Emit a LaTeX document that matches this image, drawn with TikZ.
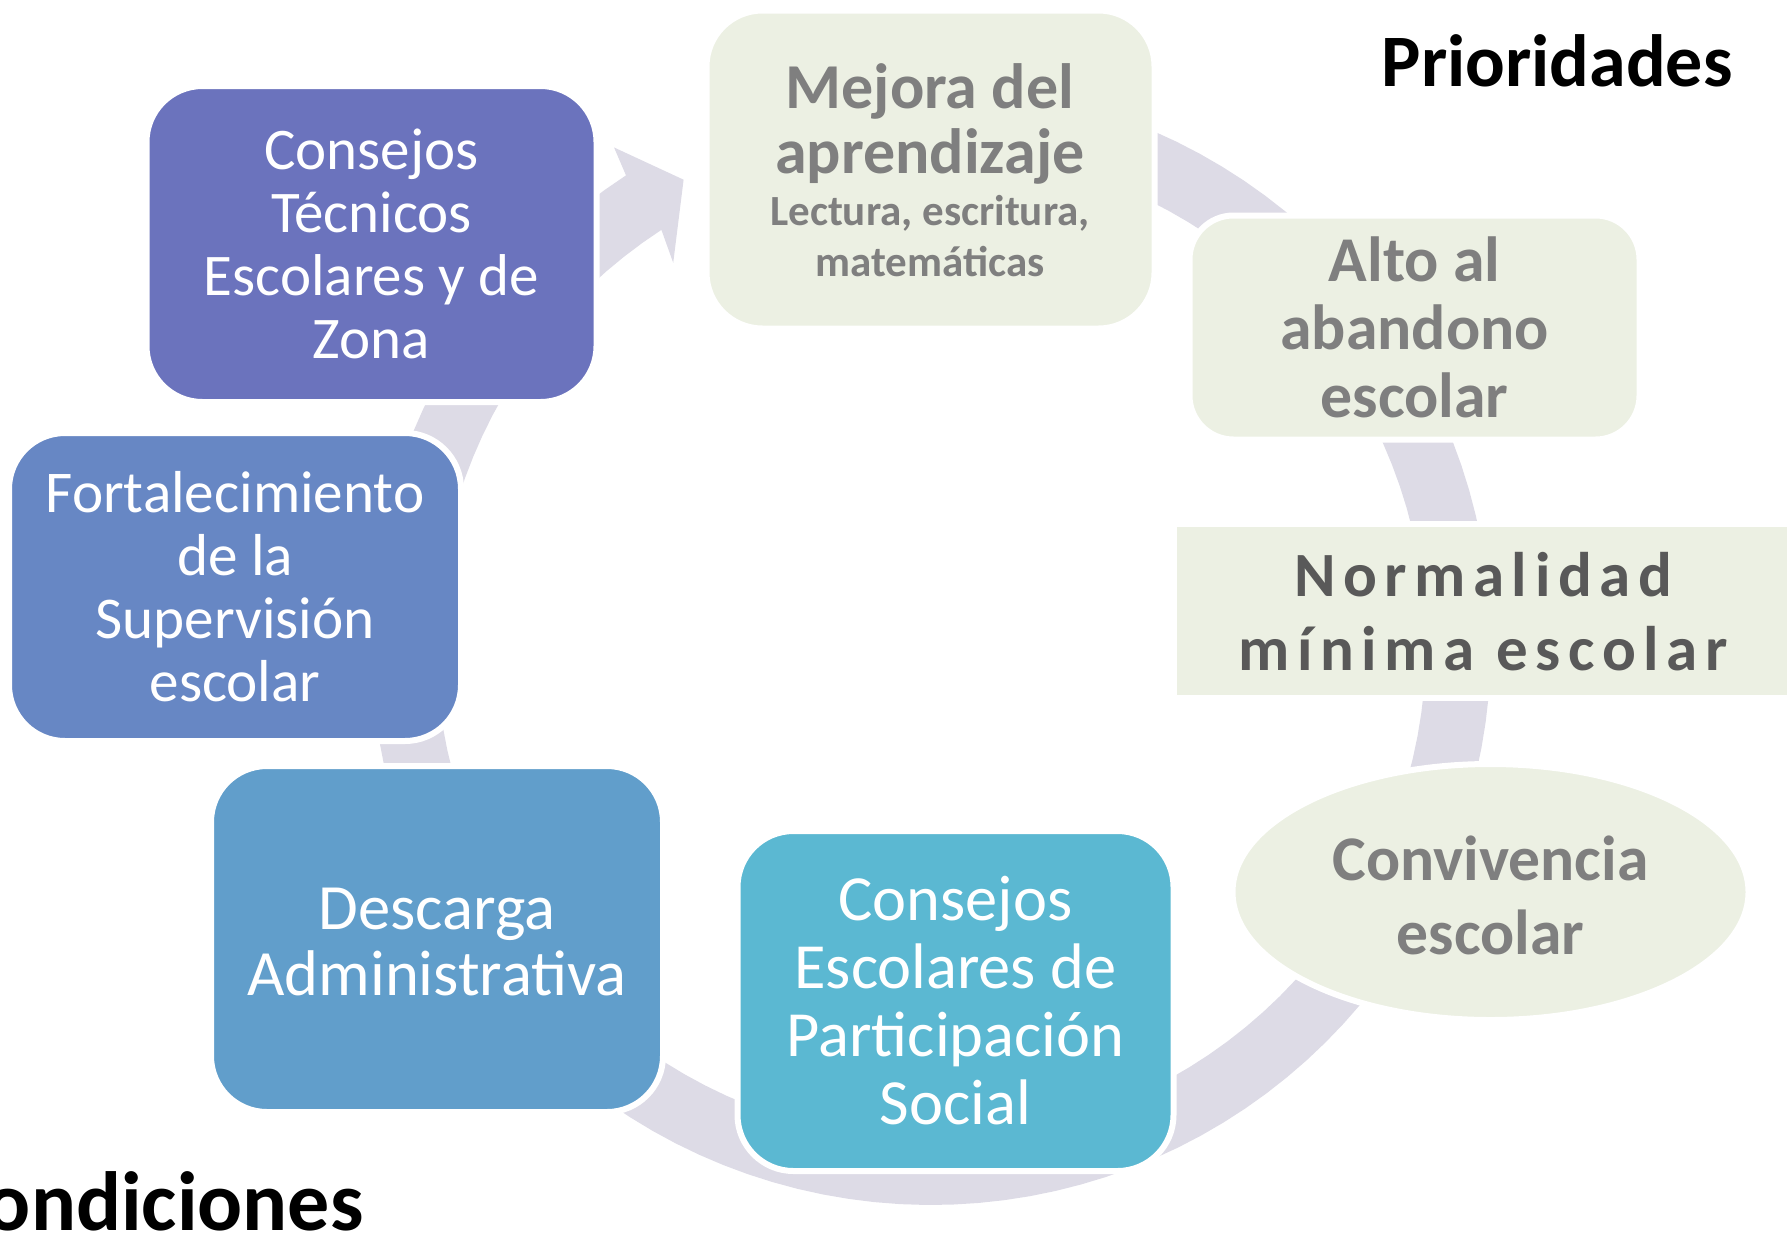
\documentclass[tikz,border=0pt]{standalone}
\usepackage{fontspec}
\setmainfont{Carlito}
\newfontfamily\spacedfont[LetterSpace=12]{Carlito}
\usetikzlibrary{shapes.geometric}
\definecolor{ringc}{HTML}{DDDBE6}
\definecolor{ctc}{HTML}{6B73BD}
\definecolor{fortc}{HTML}{6787C4}
\definecolor{descc}{HTML}{619ECB}
\definecolor{cec}{HTML}{5BB8D2}
\definecolor{greenc}{HTML}{ECF0E3}
\definecolor{grayt}{HTML}{7F7F7F}
\definecolor{darkt}{HTML}{595959}
\tikzset{
  cbox/.style={draw=white, line width=3pt, rounded corners=28pt, inner sep=0pt},
  lbox/.style={cbox, fill=greenc},
  wtext/.style={text=white, align=center, inner sep=0pt},
  gtext/.style={text=grayt, align=center, inner sep=0pt},
}
\begin{document}
\begin{tikzpicture}[x=0.5pt,y=-0.5pt]
\useasboundingbox (0,0) rectangle (1787,1232);
\clip (0,0) rectangle (1787,1232);
% ring arrow
\fill[ringc]
  plot[domain=-80:237, samples=120] ({931+560*cos(\x)},{645+560*sin(\x)})
  -- ({931+590*cos(237.5)},{645+590*sin(237.5)})
  -- ({931+527*cos(242)},{645+527*sin(242)})
  -- ({931+461*cos(236)},{645+461*sin(236)})
  -- plot[domain=237:-80, samples=120] ({931+495*cos(\x)},{645+495*sin(\x)})
  -- cycle;
% boxes
\node[cbox, fill=ctc, minimum width=225pt, minimum height=158pt] (ct) at (371.5,244) {};
\node[lbox, minimum width=224pt, minimum height=159pt] (mej) at (930.5,169.5) {};
\node[lbox, rounded corners=22pt, minimum width=225pt, minimum height=112pt] (alto) at (1414.5,327.5) {};
\node[lbox, rounded corners=0pt, minimum width=314pt, minimum height=87pt] (norm) at (1487.5,610.5) {};
\node[draw=white, line width=3pt, fill=greenc, ellipse, inner sep=0pt, minimum width=258pt, minimum height=128pt] (conv) at (1490.5,892) {};
\node[cbox, fill=cec, minimum width=218pt, minimum height=170pt] (ce) at (955.5,1001) {};
\node[cbox, fill=descc, minimum width=226pt, minimum height=173pt] (desc) at (437,939) {};
\node[cbox, fill=fortc, minimum width=226pt, minimum height=154pt] (fort) at (235,587) {};
% texts
\node[wtext, font=\fontsize{29.5}{31.5}\selectfont] (ctt) at (ct.center) {Consejos\\Técnicos\\Escolares y de\\Zona};
\node[gtext, font=\fontsize{32}{32.5}\selectfont\bfseries] (mejt) at (930,124) {Mejora del\\aprendizaje};
\node[gtext, font=\fontsize{21.5}{25.5}\selectfont\bfseries] (mejs) at (930,236.5) {Lectura, escritura,\\matemáticas};
\node[gtext, font=\fontsize{31.9}{34}\selectfont\bfseries] (altot) at (alto.center) {Alto al\\abandono\\escolar};
\node[text=darkt, align=center, inner sep=0pt, font=\fontsize{31.5}{37}\spacedfont\bfseries] (normt) at (1483,612) {Normalidad\\mínima escolar};
\node[gtext, font=\fontsize{31.8}{37}\selectfont\bfseries] (convt) at (1490.5,895.5) {Convivencia\\escolar};
\node[wtext, font=\fontsize{32.2}{34}\selectfont] (cet) at (ce.center) {Consejos\\Escolares de\\Participación\\Social};
\node[wtext, font=\fontsize{32.3}{33}\selectfont] (desct) at (437,941.5) {Descarga\\Administrativa};
\node[wtext, font=\fontsize{29.6}{31.5}\selectfont] (fortt) at (fort.center) {Fortalecimiento\\de la\\Supervisión\\escolar};
\node[anchor=base east, inner sep=0pt, font=\fontsize{37}{44}\selectfont\bfseries] (prio) at (1733,86) {Prioridades};
\node[anchor=base east, inner sep=0pt, font=\fontsize{42}{48}\selectfont\bfseries] (cond) at (364,1230) {Condiciones};
\end{tikzpicture}
\end{document}
